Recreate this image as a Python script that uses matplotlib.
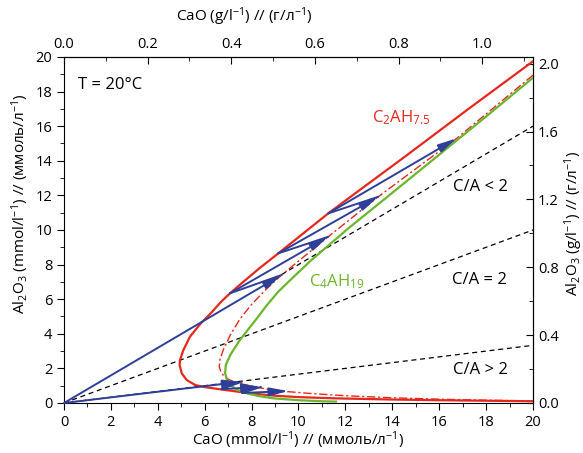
import numpy as np
import matplotlib
matplotlib.use("Agg")
import matplotlib.pyplot as plt
from matplotlib.ticker import MultipleLocator, FormatStrFormatter

plt.rcParams["font.family"] = ["Open Sans", "DejaVu Sans"]
plt.rcParams["mathtext.fontset"] = "custom"
plt.rcParams["mathtext.rm"] = "Open Sans"
plt.rcParams["mathtext.it"] = "Open Sans"
plt.rcParams["mathtext.default"] = "regular"

# g per mmol
CAO_G = 0.05608
AL2O3_G = 0.101961

# C2AH7.5 solubility curve (CaO, Al2O3 in mmol/l)
red_x = [20, 17.2, 14.5, 12.6, 11.27, 9.14, 8.3, 7.6, 7.08, 6.7, 6.3, 5.8, 5.37, 5.09, 4.95, 4.93,
         5.02, 5.23, 5.59, 6.0, 6.72, 7.6, 8.0, 9.0, 10.0, 11.5, 14, 16, 18, 20]
red_y = [19.75, 16.95, 14.2, 12.3, 10.96, 8.65, 7.75, 6.95, 6.34, 5.85, 5.25, 4.55, 3.83, 3.06, 2.5, 2.2,
         1.72, 1.33, 1.04, 0.92, 0.78, 0.62, 0.55, 0.42, 0.34, 0.27, 0.2, 0.16, 0.13, 0.1]

# dash-dot curve
dd_x = [20, 16.75, 13.4, 11.27, 9.28, 8.64, 8.0, 7.5, 7.1, 6.8, 6.65, 6.62, 6.7, 6.9, 7.2,
        7.65, 8.64, 9.5, 10.5, 12, 14, 16, 18, 20]
dd_y = [18.95, 15.3, 11.92, 9.61, 7.4, 6.6, 5.7, 4.85, 3.95, 3.1, 2.5, 2.1, 1.75, 1.45, 1.25,
        1.08, 0.8, 0.66, 0.55, 0.42, 0.3, 0.22, 0.16, 0.12]

# C4AH19 solubility curve
green_x = [20, 18.17, 15.5, 13.5, 12.13, 10.5, 9.8, 9.14, 8.65, 8.2, 7.5, 7.1, 6.9, 6.87, 6.95,
           7.08, 7.4, 7.8, 8.3, 8.93, 10.0, 11.0, 11.6]
green_y = [18.8, 16.75, 13.8, 11.6, 10.1, 8.2, 7.3, 6.44, 5.65, 4.85, 3.64, 2.8, 2.2, 1.72, 1.35,
           1.04, 0.75, 0.56, 0.4, 0.27, 0.16, 0.1, 0.08]

# C/A composition lines: (x start, x end, Al/Ca slope)
ca_lt2 = (9.28, 20, 0.8)
ca_eq2 = (0, 20, 0.5)
ca_gt2 = (0, 20, 1 / 6)

# blue dissolution / precipitation paths, arrows end at odd indices
path_hi_x = [0, 9.28, 7.08, 11.27, 9.14, 13.4, 11.27, 16.75]
path_hi_y = [0, 7.4, 6.34, 9.61, 8.65, 11.92, 10.96, 15.3]
path_lo_x = [0, 7.58, 6.72, 8.4, 7.6, 9.57]
path_lo_y = [0, 1.23, 0.8, 0.93, 0.58, 0.69]

RED = "#e5281d"
GREEN = "#6cb52d"
BLUE = "#2e3f97"

fig = plt.figure(figsize=(5.83, 4.53), dpi=100)
ax = fig.add_axes([0.1098, 0.1104, 0.8044, 0.7638])

for x0, x1, k in (ca_lt2, ca_eq2, ca_gt2):
    ax.plot([x0, x1], [k * x0, k * x1], color="black", lw=0.9, ls=(0, (4, 3)), zorder=2)

ax.plot(red_x, red_y, color=RED, lw=1.6, zorder=3)
ax.plot(dd_x, dd_y, color=RED, lw=1.0, ls=(0, (6, 2, 1.5, 2)), zorder=3)
ax.plot(green_x, green_y, color=GREEN, lw=1.6, zorder=3)


def draw_path(xs, ys):
    for i in range(1, len(xs)):
        if i % 2 == 1:
            ax.annotate("", xy=(xs[i], ys[i]), xytext=(xs[i - 1], ys[i - 1]),
                        arrowprops=dict(arrowstyle="-|>,head_length=0.8,head_width=0.18",
                                        color=BLUE, lw=1.4, shrinkA=0, shrinkB=0,
                                        mutation_scale=14),
                        zorder=4)
        else:
            ax.plot(xs[i - 1:i + 1], ys[i - 1:i + 1], color=BLUE, lw=1.4, zorder=4,
                    solid_capstyle="round")


draw_path(path_hi_x, path_hi_y)
draw_path(path_lo_x, path_lo_y)

ax.set_xlim(0, 20)
ax.set_ylim(0, 20)
ax.xaxis.set_major_locator(MultipleLocator(2))
ax.xaxis.set_minor_locator(MultipleLocator(1))
ax.yaxis.set_major_locator(MultipleLocator(2))
ax.yaxis.set_minor_locator(MultipleLocator(1))
ax.tick_params(which="both", direction="out", labelsize=10.5, top=False, right=False)
ax.tick_params(which="major", length=5)
ax.tick_params(which="minor", length=3)

secx = ax.secondary_xaxis("top", functions=(lambda v: v * CAO_G, lambda v: v / CAO_G))
secx.xaxis.set_major_locator(MultipleLocator(0.2))
secx.xaxis.set_minor_locator(MultipleLocator(0.1))
secx.xaxis.set_major_formatter(FormatStrFormatter("%.1f"))
secx.tick_params(which="both", direction="in", labelsize=10.5)
secx.tick_params(which="major", length=5)
secx.tick_params(which="minor", length=3)

secy = ax.secondary_yaxis("right", functions=(lambda v: v * AL2O3_G, lambda v: v / AL2O3_G))
secy.yaxis.set_major_locator(MultipleLocator(0.4))
secy.yaxis.set_minor_locator(MultipleLocator(0.2))
secy.yaxis.set_major_formatter(FormatStrFormatter("%.1f"))
secy.tick_params(which="both", direction="in", labelsize=10.5)
secy.tick_params(which="major", length=5)
secy.tick_params(which="minor", length=3)

# axis titles placed in figure coordinates
fig.text(298 / 583, 1 - 440 / 453, "CaO (mmol/l$^{-1}$) // (ммоль/л$^{-1}$)",
         fontsize=11, ha="center", va="center")
fig.text(244 / 583, 1 - 17 / 453, "CaO (g/l$^{-1}$) // (г/л$^{-1}$)",
         fontsize=11, ha="center", va="center")
fig.text(20 / 583, 1 - 204 / 453, "Al$_2$O$_3$ (mmol/l$^{-1}$) // (ммоль/л$^{-1}$)",
         fontsize=11, ha="center", va="center", rotation=90)
fig.text(574 / 583, 1 - 223 / 453, "Al$_2$O$_3$ (g/l$^{-1}$) // (г/л$^{-1}$)",
         fontsize=11, ha="center", va="center", rotation=90)

ax.text(0.6, 18.4, "T = 20°C", fontsize=12, va="center", ha="left")
ax.text(16.6, 12.5, "C/A < 2", fontsize=12, va="center", ha="left")
ax.text(16.55, 7.1, "C/A = 2", fontsize=12, va="center", ha="left")
ax.text(16.57, 1.9, "C/A > 2", fontsize=12, va="center", ha="left")
ax.text(13.15, 16.5, "C$_2$AH$_{7.5}$", fontsize=12, color=RED, va="center", ha="left")
ax.text(10.45, 7.0, "C$_4$AH$_{19}$", fontsize=12, color=GREEN, va="center", ha="left")

fig.savefig("out.png", dpi=100)
